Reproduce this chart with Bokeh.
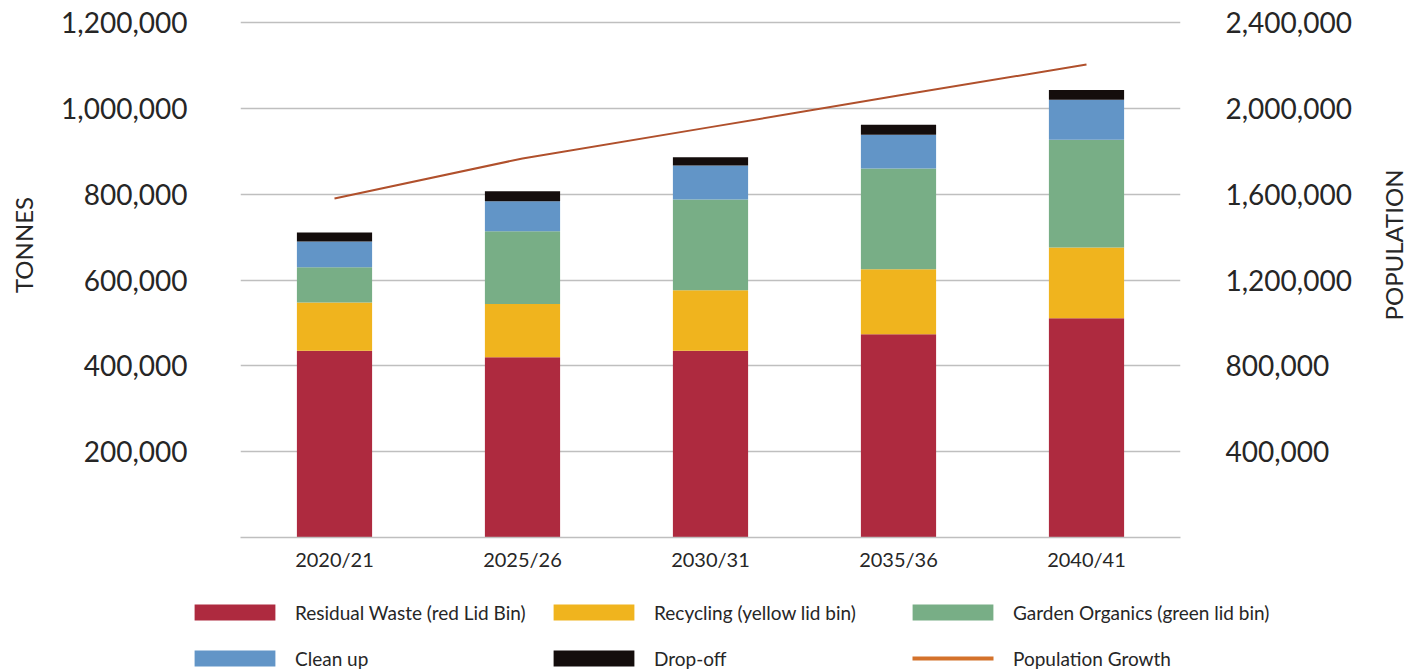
import math
from bokeh.plotting import figure
from bokeh.layouts import row, column
from bokeh.models import (FactorRange, Range1d, LinearAxis, FixedTicker,
                          NumeralTickFormatter, Legend, LegendItem,
                          ColumnDataSource)
from bokeh.core.properties import value
from bokeh.embed import file_html
from bokeh.resources import INLINE

categories = ["2020/21", "2025/26", "2030/31", "2035/36", "2040/41"]
residual = [435000, 420000, 435000, 474000, 511000]
recycling = [113000, 124000, 141000, 151000, 165000]
garden = [82000, 170000, 212000, 235000, 251000]
cleanup = [60000, 70000, 79000, 79000, 93000]
dropoff = [21000, 23000, 19000, 23000, 23000]
population = [1580000, 1767000, 1913000, 2060000, 2205000]

series_names = ["Residual Waste (red Lid Bin)", "Recycling (yellow lid bin)",
                "Garden Organics (green lid bin)", "Clean up", "Drop-off"]
line_name = "Population Growth"
left_ticks = [200000, 400000, 600000, 800000, 1000000, 1200000]
right_ticks = [400000, 800000, 1200000, 1600000, 2000000, 2400000]
left_title = "TONNES"
right_title = "POPULATION"

colors = ["#AE2A3F", "#F0B41E", "#78AE86", "#6295C7", "#140D0C"]
line_color = "#B0502C"
legend_line_color = "#D4722B"
FONT = "Lato"
TXT = "#262626"
TOP_H = 585
LEG_H = 87
LEFT_W, MAIN_W, RIGHT_W = 40, 1335, 35
TOTAL_W = LEFT_W + MAIN_W + RIGHT_W
NAN = float("nan")

src = ColumnDataSource(dict(cat=categories, residual=residual, recycling=recycling,
                            garden=garden, cleanup=cleanup, dropoff=dropoff,
                            population=population))

p = figure(x_range=FactorRange(*categories), y_range=Range1d(0, 1205000),
           width=MAIN_W, height=TOP_H, output_backend="svg", toolbar_location=None,
           min_border_left=200, min_border_right=195, min_border_top=20,
           min_border_bottom=48)
p.outline_line_color = None
p.extra_y_ranges = {"pop": Range1d(0, 2410000)}

stack = ["residual", "recycling", "garden", "cleanup", "dropoff"]
bars = p.vbar_stack(stack, x="cat", width=0.4, fill_color=colors,
                    line_color=None, source=src)

p.line(x="cat", y="population", source=src, y_range_name="pop",
       line_color=line_color, line_width=2)

# grid
p.xgrid.grid_line_color = None
p.ygrid.ticker = FixedTicker(ticks=[0] + left_ticks)
p.ygrid.grid_line_color = "#BFBFBF"
p.ygrid.grid_line_width = 1.5

# left axis
ya = p.yaxis[0]
ya.ticker = FixedTicker(ticks=left_ticks)
ya.formatter = NumeralTickFormatter(format="0,0")
ya.axis_line_color = None
ya.major_tick_line_color = None
ya.minor_tick_line_color = None
ya.major_label_standoff = 47
ya.major_label_text_font = FONT
ya.major_label_text_font_size = "28px"
ya.major_label_text_color = TXT

# right axis
ra = LinearAxis(y_range_name="pop", ticker=FixedTicker(ticks=right_ticks),
                formatter=NumeralTickFormatter(format="0,0"))
ra.axis_line_color = None
ra.major_tick_line_color = None
ra.minor_tick_line_color = None
ra.major_label_standoff = 39
ra.major_label_text_font = FONT
ra.major_label_text_font_size = "28px"
ra.major_label_text_color = TXT
p.add_layout(ra, "right")

# x axis
xa = p.xaxis[0]
xa.axis_line_color = "#BFBFBF"
xa.axis_line_width = 1.5
xa.major_tick_line_color = None
xa.minor_tick_line_color = None
xa.major_label_standoff = 3
xa.major_label_text_font = FONT
xa.major_label_text_font_size = "20px"
xa.major_label_text_color = TXT


def blank_fig(w, h, x0):
    f = figure(width=w, height=h, x_range=Range1d(x0, x0 + w),
               y_range=Range1d(0, h), output_backend="svg",
               toolbar_location=None, x_axis_location=None,
               y_axis_location=None, min_border=0)
    f.outline_line_color = None
    f.xgrid.visible = False
    f.ygrid.visible = False
    return f


def side_fig(w, x0, title, cx):
    f = blank_fig(w, TOP_H, x0)
    f.text(x=[cx], y=[TOP_H - 254], text=[title], angle=math.pi / 2,
           text_align="center", text_baseline="middle",
           text_font=value(FONT), text_font_size="24px", text_color=TXT)
    return f


left = side_fig(LEFT_W, 0, left_title, 23)
right = side_fig(RIGHT_W, LEFT_W + MAIN_W, right_title, 1393)

# legend panel (own figure so nothing is clipped); keys are placeholder glyphs
lf = blank_fig(TOTAL_W, LEG_H, 0)
key_renderers = [lf.vbar(x=[NAN], top=[NAN], width=1, fill_color=c, line_color=None)
                 for c in colors]
key_line = lf.line(x=[NAN], y=[NAN], line_color=legend_line_color, line_width=4,
                   line_dash="0 10 81 10")
items = [LegendItem(label=n, renderers=[r]) for n, r in zip(series_names, key_renderers)]
items.append(LegendItem(label=line_name, renderers=[key_line]))
legend = Legend(items=items, ncols=3, orientation="horizontal",
                location=(184, -1), glyph_width=101, glyph_height=20,
                label_standoff=10, label_width=232, label_height=30,
                spacing=16, padding=0, margin=0,
                label_text_font=FONT, label_text_font_size="19px",
                label_text_color=TXT, background_fill_alpha=0,
                border_line_alpha=0)
lf.add_layout(legend, "center")

layout = column(row(left, p, right, spacing=0), lf, spacing=0)
open("out.html", "w").write(file_html(layout, INLINE))
